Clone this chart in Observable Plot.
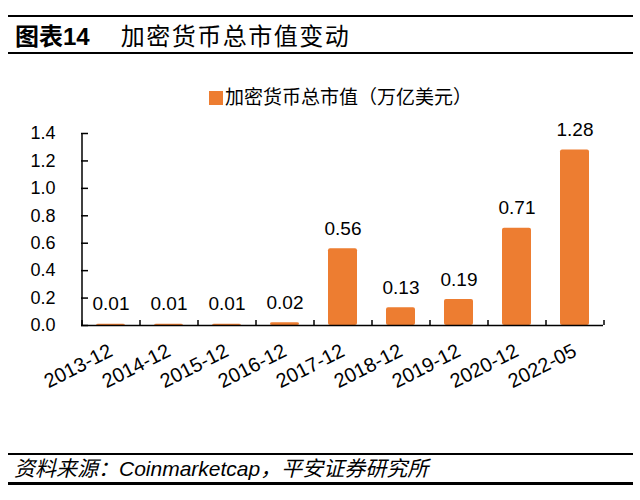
<!DOCTYPE html>
<html>
<head>
<meta charset="utf-8">
<script src="https://cdn.jsdelivr.net/npm/d3@7"></script>
<script src="https://cdn.jsdelivr.net/npm/@observablehq/plot@0.6"></script>
<style>
  html, body { margin: 0; padding: 0; background: #fff; }
  body { width: 640px; height: 500px; position: relative; overflow: hidden;
         font-family: "Liberation Sans", "Noto Sans CJK SC", sans-serif; color: #000; }
  .rule { position: absolute; left: 8px; width: 625px; background: #000; }
  #title { position: absolute; left: 15px; top: 22px; height: 30px; line-height: 30px; font-size: 24px; white-space: nowrap; }
  #title .num { font-weight: bold; }
  #title .txt { margin-left: 31px; letter-spacing: 1.5px; }
  #legend { position: absolute; left: 209px; top: 86px; height: 24px; line-height: 24px; font-size: 19px; white-space: nowrap; }
  #legend .sw { display: inline-block; width: 14px; height: 14px; background: #ED7D31; vertical-align: -1px; margin-right: 2px; }
  #chart { position: absolute; left: 0; top: 110px; }
  #source { position: absolute; left: 14px; top: 456px; height: 26px; line-height: 26px; font-size: 21px; font-style: italic; white-space: nowrap; }
</style>
</head>
<body>
<div class="rule" style="top:15px;height:2px"></div>
<div id="title"><span class="num">图表14</span><span class="txt">加密货币总市值变动</span></div>
<div class="rule" style="top:52px;height:2px"></div>
<div id="legend"><span class="sw"></span>加密货币总市值（万亿美元）</div>
<div id="chart"></div>
<div class="rule" style="top:453px;height:2px"></div>
<div id="source">资料来源：Coinmarketcap，平安证券研究所</div>
<div class="rule" style="top:482px;height:3px"></div>
<script>
const categories = ["2013-12", "2014-12", "2015-12", "2016-12", "2017-12", "2018-12", "2019-12", "2020-12", "2022-05"];
const values = [0.01, 0.01, 0.01, 0.02, 0.56, 0.13, 0.19, 0.71, 1.28];
const yTicks = [0, 0.2, 0.4, 0.6, 0.8, 1.0, 1.2, 1.4];
const barColor = "#ED7D31";

const data = categories.map((c, i) => ({cat: c, value: values[i]}));

const W = 640, H = 330, mL = 81, mR = 37, mT = 23, mB = 115;
const pInner = 0.5, pOuter = 0.25;
const step = (W - mL - mR) / (categories.length - pInner + 2 * pOuter);

const chart = Plot.plot({
  width: W, height: H,
  marginTop: mT, marginBottom: mB, marginLeft: mL, marginRight: mR,
  style: {fontFamily: "'Liberation Sans', Arial, sans-serif", fontSize: "18px", color: "#000", background: "transparent", overflow: "visible"},
  x: {domain: categories, paddingInner: pInner, paddingOuter: pOuter, axis: null, label: null},
  y: {domain: [0, 1.4], axis: null, label: null},
  marks: [
    Plot.barY(data, {x: "cat", y: "value", fill: barColor, rx: 2}),
    Plot.ruleY([0], {stroke: "#000", strokeWidth: 1.5}),
    Plot.ruleX([categories[0]], {dx: -step / 2, y1: 0, y2: 1.4, stroke: "#000", strokeWidth: 1.5}),
    Plot.axisY({ticks: yTicks, tickSize: 7, dx: 7, tickFormat: () => "", label: null, stroke: "#000", strokeWidth: 1.5}),
    Plot.axisY({ticks: yTicks, tickSize: 0, tickPadding: 26, tickFormat: d3.format(".1f"), label: null, fontSize: 18, fill: "#000"}),
    Plot.axisX({tickSize: 5, dx: -step / 2, dy: -5, tickFormat: () => "", label: null, stroke: "#000", strokeWidth: 1.5}),
    Plot.axisX({ticks: [categories[categories.length - 1]], tickSize: 5, dx: step / 2, dy: -5, tickFormat: () => "", label: null, stroke: "#000", strokeWidth: 1.5}),
    Plot.axisX({tickSize: 0, tickPadding: 24, tickRotate: -27, fontSize: 20, fill: "#000", dx: 0, label: null}),
    Plot.text(data, {x: "cat", y: "value", text: d => d3.format(".2f")(d.value), dy: -20, fontSize: 19, fill: "#000"})
  ]
});
document.getElementById("chart").appendChild(chart);
</script>
</body>
</html>
